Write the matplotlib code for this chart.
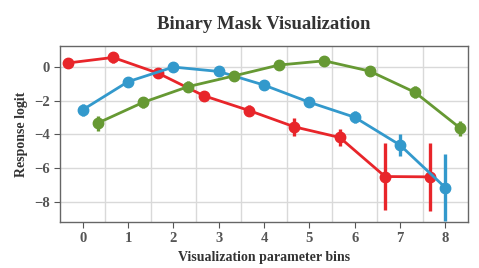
import matplotlib
matplotlib.use('Agg')
import matplotlib.pyplot as plt
import numpy as np

# data
bins = [0, 1, 2, 3, 4, 5, 6, 7, 8]
red_vals = [0.24, 0.57, -0.37, -1.7, -2.58, -3.55, -4.18, -6.5, -6.52]
red_err = [0.3, 0.3, 0.3, 0.3, 0.35, 0.55, 0.5, 2.0, 2.0]
blue_vals = [-2.54, -0.87, 0.0, -0.26, -1.07, -2.09, -2.98, -4.63, -7.16]
blue_err = [0.35, 0.3, 0.3, 0.3, 0.3, 0.3, 0.35, 0.65, 2.0]
green_vals = [-3.33, -2.1, -1.16, -0.53, 0.12, 0.37, -0.24, -1.5, -3.63]
green_err = [0.45, 0.35, 0.35, 0.3, 0.3, 0.3, 0.3, 0.35, 0.45]

series = [
    (red_vals, red_err, '#e8252a', -0.33),
    (blue_vals, blue_err, '#3399cc', 0.0),
    (green_vals, green_err, '#669933', 0.33),
]

plt.rcParams['font.family'] = ['Liberation Serif', 'DejaVu Serif']

fig = plt.figure(figsize=(4.79, 2.68), dpi=100)
ax = fig.add_axes([60/479, 1-222/268, 408/479, 176/268])

x = np.array(bins, dtype=float)
for vals, err, col, off in series:
    ax.errorbar(x + off, vals, yerr=err, color=col, lw=2.0, elinewidth=2.4,
                marker='o', markersize=7.5, capsize=0, zorder=3)

ax.set_xlim(-0.5, 8.5)
ax.set_ylim(-9.2, 1.25)
ax.set_xticks(bins)
ax.set_xticks(np.arange(0.5, 8.5, 1.0), minor=True)
ax.set_yticks([0, -2, -4, -6, -8])
ax.set_yticklabels(['0', '\u22122', '\u22124', '\u22126', '\u22128'])
ax.grid(False)
ax.grid(True, which='minor', axis='x', color='#d9d9d9', lw=1)
ax.grid(True, which='major', axis='y', color='#d9d9d9', lw=1)
ax.set_axisbelow(True)
ax.tick_params(axis='x', which='minor', length=0)
ax.tick_params(which='major', direction='out', length=4, color='#555555',
               labelsize=10.5, labelcolor='#555555')
for lab in ax.get_xticklabels() + ax.get_yticklabels():
    lab.set_fontweight('bold')
for s in ax.spines.values():
    s.set_color('#666666')
    s.set_linewidth(1)

ax.set_xlabel('Visualization parameter bins', fontsize=10, fontweight='bold', color='#333333')
ax.set_ylabel('Response logit', fontsize=10, fontweight='bold', color='#333333')
ax.set_title('Binary Mask Visualization', fontsize=13.5, fontweight='bold', color='#333333', pad=12)

fig.savefig('out.png', dpi=100)
